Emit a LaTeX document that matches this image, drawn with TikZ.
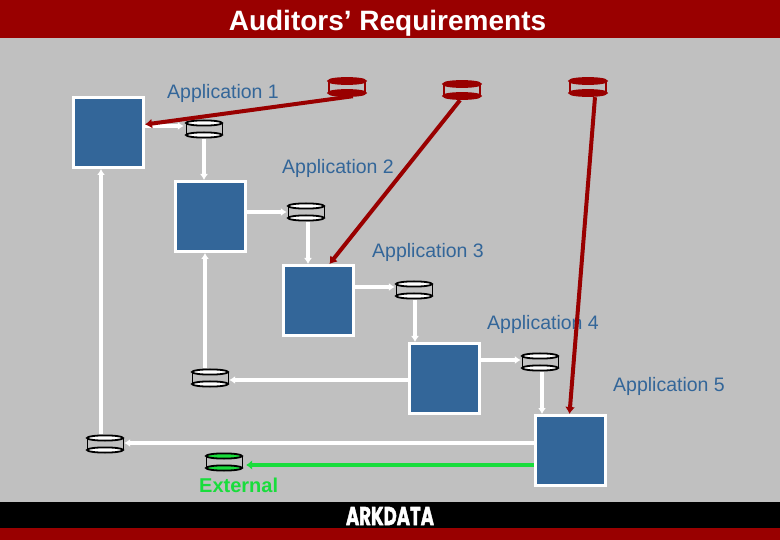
\documentclass[tikz,border=0pt]{standalone}
\usepackage{graphicx}
\usepackage{fontspec}
\setmainfont{Liberation Sans}
\newfontfamily\logofont[BoldFeatures={FakeBold=2}]{Poppins}
\usetikzlibrary{arrows.meta}
\definecolor{bggray}{HTML}{C0C0C0}
\definecolor{darkred}{HTML}{990000}
\definecolor{appblue}{HTML}{336699}
\definecolor{extgreen}{HTML}{19DD3C}
\tikzset{
  appbox/.style={draw=white,line width=3pt,fill=appblue,minimum width=70pt,minimum height=70pt,inner sep=0pt},
  dbbox/.style={minimum width=38pt,minimum height=20pt,inner sep=0pt},
  applabel/.style={anchor=west,inner sep=0pt,text=appblue,font=\fontsize{19.5}{22}\selectfont},
  flow/.style={draw=white,line width=3.4pt,-{Latex[length=6pt,width=8pt]}},
  audit/.style={draw=darkred,line width=4pt,-{Latex[length=7pt,width=10pt]}},
  extflow/.style={draw=extgreen,line width=4pt,-{Latex[length=6pt,width=10pt]}}
}
% \dbcyl{name}{x}{y}{outline}{fill}{line width}{side width}
\newcommand{\dbcyl}[7]{%
  \node[dbbox] (#1) at (#2,#3) {};
  \draw[#4,line width=#7] (#2-18,#3-6) -- (#2-18,#3+6) (#2+18,#3-6) -- (#2+18,#3+6);
  \draw[#4,fill=#5,line width=#6] (#2,#3-6) ellipse [x radius=18,y radius=2.6];
  \draw[#4,fill=#5,line width=#6] (#2,#3+6) ellipse [x radius=18,y radius=2.6];
}
\begin{document}
\begin{tikzpicture}[x=1pt,y=-1pt]
\useasboundingbox (0,0) rectangle (780,540);
\fill[bggray] (0,0) rectangle (780,540);
\fill[darkred] (0,0) rectangle (780,38);
\fill[black] (0,502) rectangle (780,528);
\fill[darkred] (0,528) rectangle (780,540);
\node[text=white,inner sep=0pt,font=\bfseries\fontsize{28}{32}\selectfont] (title) at (387.5,23) {Auditors’ Requirements};
\node[text=white,inner sep=0pt] (logo) at (390,516) {\resizebox{88pt}{18pt}{\logofont\bfseries ARKDATA}};

\node[applabel] (l1) at (167,93) {Application 1};
\node[applabel] (l2) at (282,168) {Application 2};
\node[applabel] (l3) at (372,252) {Application 3};
\node[applabel] (l4) at (487,324) {Application 4};
\node[applabel] (l5) at (613,386) {Application 5};
\node[anchor=west,inner sep=0pt,text=extgreen,font=\bfseries\fontsize{20}{22}\selectfont] (lx) at (199,485) {External};

\node[appbox] (a) at (108.5,132.5) {};
\node[appbox] (b) at (210.5,216.5) {};
\node[appbox] (c) at (318.5,300.5) {};
\node[appbox] (d) at (444.5,378.5) {};
\node[appbox] (e) at (570.5,450.5) {};

\dbcyl{c1}{204}{129}{black}{white}{1.8pt}{1pt}
\dbcyl{c2}{306}{212}{black}{white}{1.8pt}{1pt}
\dbcyl{c3}{414}{290}{black}{white}{1.8pt}{1pt}
\dbcyl{c4}{540}{362}{black}{white}{1.8pt}{1pt}
\dbcyl{c5}{210}{378}{black}{white}{1.8pt}{1pt}
\dbcyl{c6}{105}{444}{black}{white}{1.8pt}{1pt}
\dbcyl{gx}{224}{462}{black}{extgreen}{1.8pt}{1pt}
\dbcyl{r1}{347}{87}{darkred}{darkred}{2.6pt}{1.6pt}
\dbcyl{r2}{462}{90}{darkred}{darkred}{2.6pt}{1.6pt}
\dbcyl{r3}{588}{87}{darkred}{darkred}{2.6pt}{1.6pt}

\draw[flow] ([yshift=3pt]a.east |- c1.west) -- ([yshift=3pt,xshift=-1pt]c1.west);
\draw[flow] (c1.south) -- (c1.south |- b.north);
\draw[flow] (b.east |- c2.west) -- (c2.west);
\draw[flow] ([xshift=2pt]c2.south) -- ([xshift=2pt]c2.south |- c.north);
\draw[flow] ([yshift=3pt]c.east |- c3.west) -- ([yshift=3pt]c3.west);
\draw[flow] ([xshift=1pt]c3.south) -- ([xshift=1pt]c3.south |- d.north);
\draw[flow] ([yshift=2pt]d.east |- c4.west) -- ([yshift=2pt]c4.west);
\draw[flow] ([xshift=2pt]c4.south) -- ([xshift=2pt]c4.south |- e.north);
\draw[flow] ([yshift=-2pt]d.west |- c5.east) -- ([yshift=-2pt]c5.east);
\draw[flow] ([xshift=-5pt]c5.north) -- ([xshift=-5pt]c5.north |- b.south);
\draw[flow] ([yshift=1pt]e.west |- c6.east) -- ([yshift=1pt]c6.east);
\draw[flow] ([xshift=-4pt]c6.north) -- ([xshift=-4pt]c6.north |- a.south);
\draw[extflow] ([yshift=-3pt]e.west |- gx.east) -- ([yshift=-3pt,xshift=3pt]gx.east);

\draw[audit] ([xshift=6pt,yshift=1pt]r1.south) -- ([yshift=8pt]a.east);
\draw[audit] ([xshift=-2pt]r2.south) -- ([xshift=11pt]c.north);
\draw[audit] ([xshift=7pt]r3.south) -- ([xshift=-1pt]e.north);
\end{tikzpicture}
\end{document}
